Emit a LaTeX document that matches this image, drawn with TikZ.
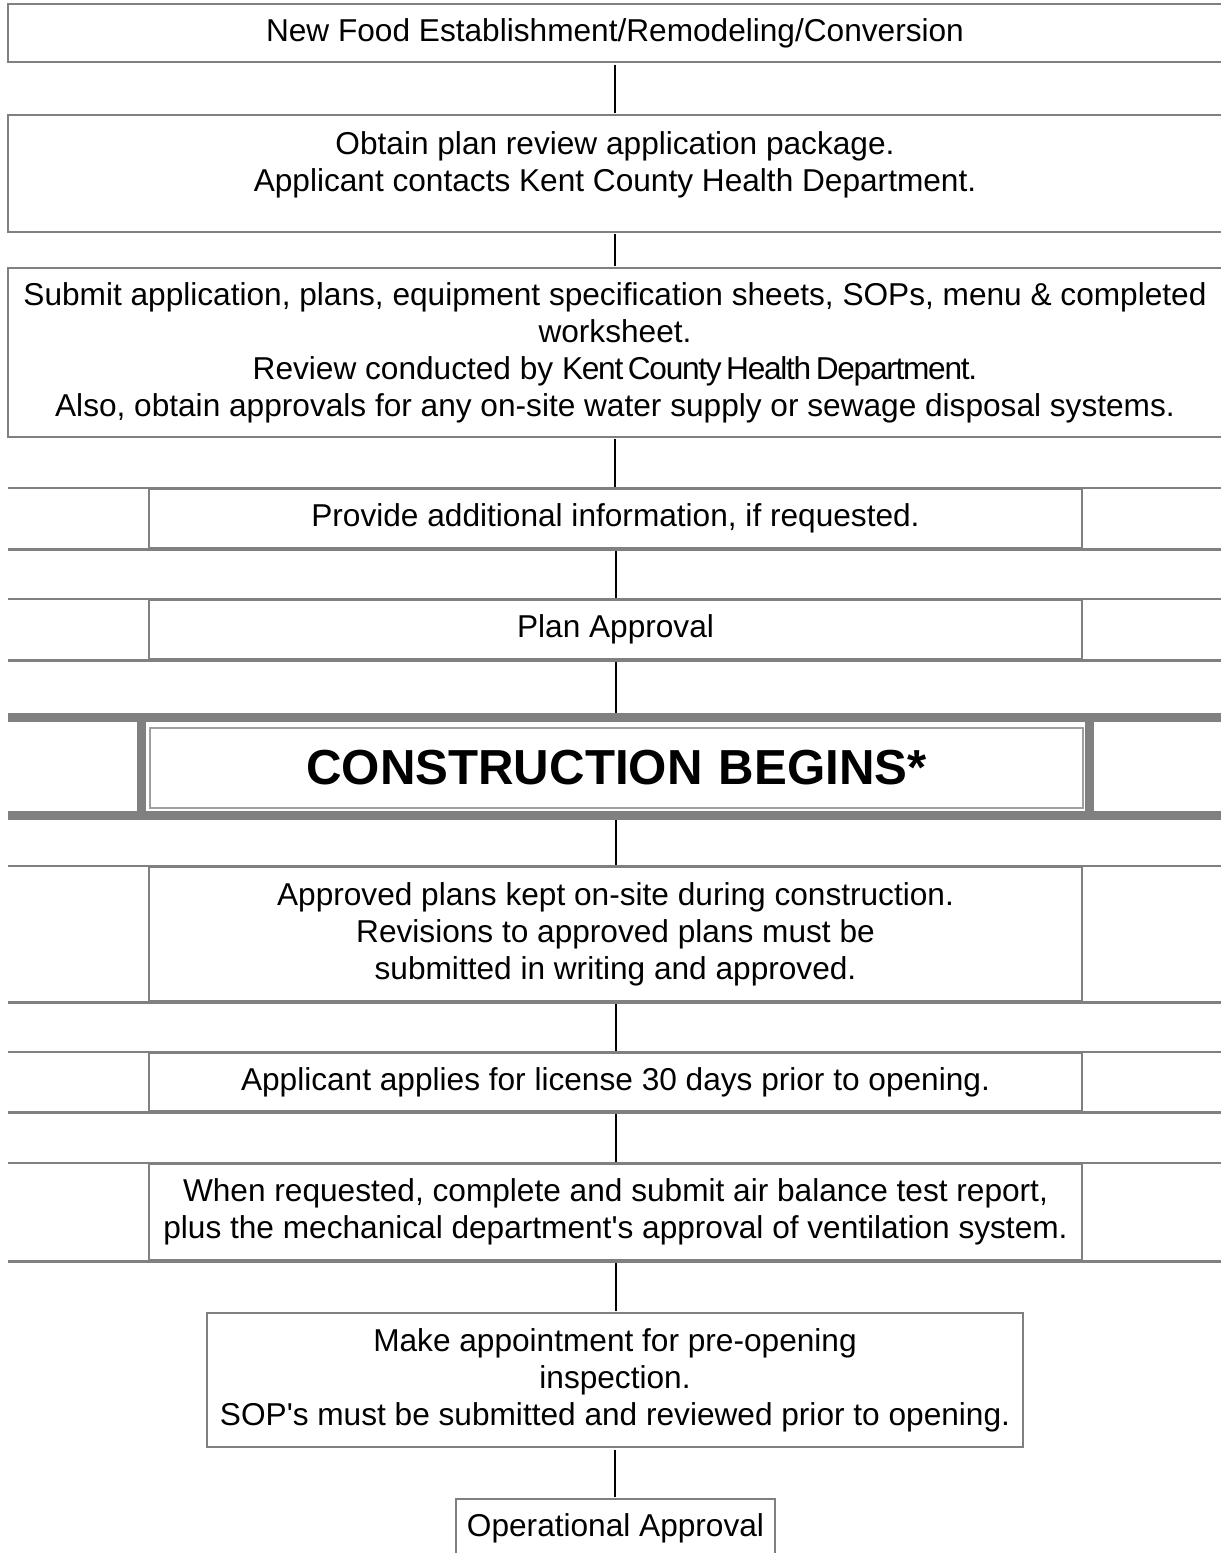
\documentclass[tikz,border=0pt]{standalone}
\usepackage{fontspec}
\setmainfont{Liberation Sans}
\newfontfamily\tightfont[LetterSpace=-4,WordSpace=0.6]{Liberation Sans}
\begin{document}
\begin{tikzpicture}[x=0.02cm,y=-0.02cm,
  box/.style={draw=gray,line width=0.05cm,inner sep=0pt,align=center,
    font=\fontsize{18}{21}\selectfont},
  link/.style={black,line width=0.04cm,shorten <=0.025cm,shorten >=0.025cm},
  rule/.style={gray,line width=0.05cm},
  band/.style={gray,line width=0.18cm}]
\useasboundingbox (0,0) rectangle (1221,1553);
\coordinate (L) at (8,0);
\coordinate (R) at (1222,0);
\coordinate (bl) at (141.5,0);
\coordinate (br) at (1089.5,0);
% full width steps
\node[box,minimum width=24.28cm,minimum height=1.16cm] (new) at (615,33)
  {New Food Establishment/Remodeling/Conversion};
\node[box,minimum width=24.28cm,minimum height=2.34cm,
  label={[align=center,font=\fontsize{18}{21}\selectfont,yshift=0.17cm]center:
    Obtain plan review application package.\\
    Applicant contacts Kent County Health Department.}] (obtain) at (615,173.5) {};
\node[box,minimum width=24.28cm,minimum height=3.38cm] (submit) at (615,352.5)
  {Submit application, plans, equipment specification sheets, SOPs, menu \& completed\\
   worksheet.\\
   Review conducted by {\tightfont Kent County Health Department.}\\
   Also, obtain approvals for any on-site water supply or sewage disposal systems.};
% rows with side cells
\node[box,minimum width=18.66cm,minimum height=1.18cm] (more) at (615.5,518.5)
  {Provide additional information, if requested.};
\node[box,minimum width=18.66cm,minimum height=1.18cm] (plan) at (615.5,629.5)
  {Plan Approval};
\node[draw=gray!75,line width=0.04cm,inner sep=0pt,minimum width=18.66cm,minimum height=1.6cm,
  font=\fontsize{28}{32}\selectfont\bfseries] (cb) at (616.5,768) {CONSTRUCTION\,\,BEGINS*};
\node[box,minimum width=18.66cm,minimum height=2.68cm] (kept) at (615.5,934)
  {Approved plans kept on-site during construction.\\
   Revisions to approved plans must be\\
   submitted in writing and approved.};
\node[box,minimum width=18.66cm,minimum height=1.16cm] (license) at (615.5,1082)
  {Applicant applies for license 30 days prior to opening.};
\node[box,minimum width=18.66cm,minimum height=1.92cm] (air) at (615.5,1212)
  {When requested, complete and submit air balance test report,\\
   plus the mechanical department\textquotesingle s approval of ventilation system.};
% last two
\node[box,minimum width=16.32cm,minimum height=2.68cm] (appt) at (615,1380)
  {Make appointment for pre-opening\\
   inspection.\\
   SOP\textquotesingle s must be submitted and reviewed prior to opening.};
\node[box,minimum width=6.38cm,minimum height=1.16cm] (ok) at (615.5,1528)
  {Operational Approval};
\path (cb.north) ++(0,-9.5) coordinate (cbt);
\path (cb.south) ++(0,6.5) coordinate (cbb);
% connectors
\foreach \a/\b in {new/obtain,obtain/submit,submit/more,more/plan,
  kept/license,license/air,air/appt,appt/ok}
  \draw[link] (\a.south) -- (\a.south |- \b.north);
\draw[link] (plan.south) -- (plan.south |- cbt);
\draw[link] (plan.south |- cbb) -- (plan.south |- kept.north);
% row rules
\foreach \n in {more,plan,kept,license,air}
  \draw[rule] (L |- \n.north) -- (R |- \n.north) (L |- \n.south) -- (R |- \n.south);
\draw[band] (L |- cbt) -- (R |- cbt);
\draw[band] (L |- cbb) -- (R |- cbb);
\draw[band] (bl |- cbt) -- (bl |- cbb);
\draw[band] (br |- cbt) -- (br |- cbb);
\end{tikzpicture}
\end{document}
